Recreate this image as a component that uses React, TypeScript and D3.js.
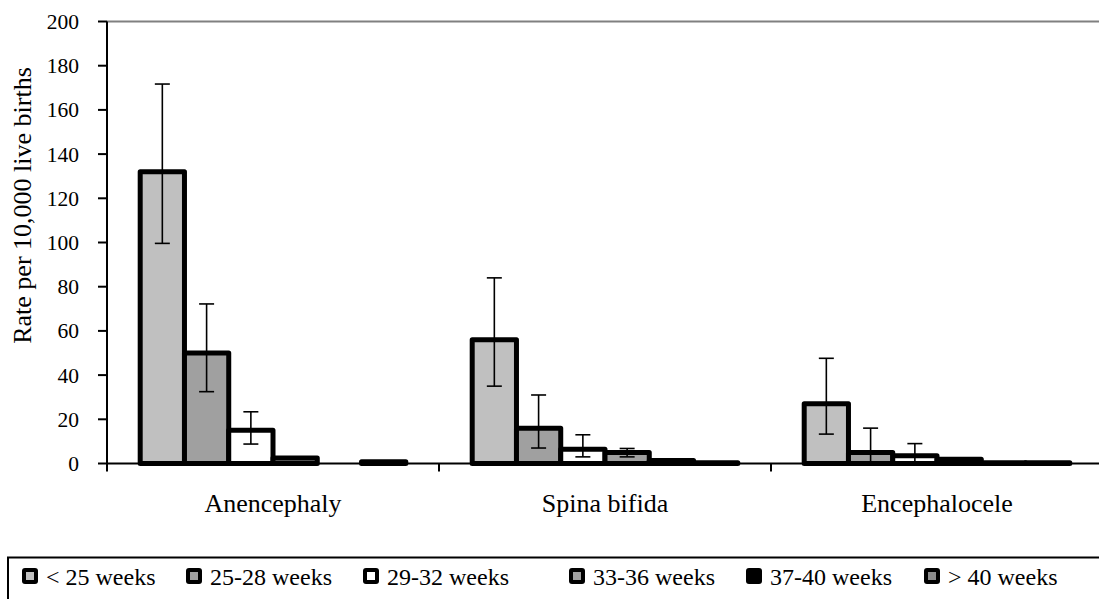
import React from "react";
import * as d3 from "d3";

// Neural tube defect rates by gestational age at birth
const categories: string[] = ["Anencephaly", "Spina bifida", "Encephalocele"];
const seriesNames: string[] = [
  "< 25 weeks",
  "25-28 weeks",
  "29-32 weeks",
  "33-36 weeks",
  "37-40 weeks",
  "> 40 weeks",
];

// rate per 10,000 live births, one array per gestational-age group (Anencephaly, Spina bifida, Encephalocele)
const lt25: number[] = [132, 56, 27];
const w25to28: number[] = [50, 16, 5];
const w29to32: number[] = [15, 6.5, 3.5];
const w33to36: number[] = [2.5, 5, 1.9];
const w37to40: number[] = [0, 1.4, 0.3];
const gt40: number[] = [0.8, 0.3, 0.3];

// 95% confidence limits (null = no interval shown)
const lt25Low: (number | null)[] = [99.6, 35, 13.3];
const lt25High: (number | null)[] = [171.7, 84, 47.6];
const w25to28Low: (number | null)[] = [32.5, 7, 0];
const w25to28High: (number | null)[] = [72.2, 31, 16];
const w29to32Low: (number | null)[] = [8.8, 3, 0];
const w29to32High: (number | null)[] = [23.4, 13, 9];
const w33to36Low: (number | null)[] = [null, 3, null];
const w33to36High: (number | null)[] = [null, 6.8, null];
const noInterval: (number | null)[] = [null, null, null];

const yTickValues: number[] = [0, 20, 40, 60, 80, 100, 120, 140, 160, 180, 200];

const seriesValues = [lt25, w25to28, w29to32, w33to36, w37to40, gt40];
const seriesLow = [lt25Low, w25to28Low, w29to32Low, w33to36Low, noInterval, noInterval];
const seriesHigh = [lt25High, w25to28High, w29to32High, w33to36High, noInterval, noInterval];

// styling
const fills = ["#c0c0c0", "#a0a0a0", "#ffffff", "#a0a0a0", "#000000", "#8c8c8c"];
const FONT = '"Liberation Serif", Tinos, "Times New Roman", "DejaVu Serif", serif';

// layout
const W = 1099;
const H = 599;
const plotLeft = 107;
const plotRight = 1103;
const plotTop = 21.5;
const plotBottom = 463.5;
const legendItemX = [22, 186, 363, 569, 746, 924];

export default function App() {
  const x0 = d3.scaleBand<string>().domain(categories).range([plotLeft, plotRight]).paddingInner(0).paddingOuter(0);
  const x1 = d3
    .scaleBand<string>()
    .domain(seriesNames)
    .range([0, x0.bandwidth()])
    .paddingInner(0)
    .paddingOuter(0.75);
  const y = d3.scaleLinear().domain([0, 200]).range([plotBottom, plotTop]);

  const bars: React.ReactNode[] = [];
  const errs: React.ReactNode[] = [];
  seriesNames.forEach((s, si) => {
    categories.forEach((c, ci) => {
      const v = seriesValues[si][ci];
      const bx = (x0(c) ?? 0) + (x1(s) ?? 0);
      const bw = x1.bandwidth();
      if (v > 0) {
        bars.push(
          <rect
            key={`b-${si}-${ci}`}
            x={bx}
            y={y(v)}
            width={bw}
            height={y(0) - y(v)}
            fill={fills[si]}
            stroke="#000"
            strokeWidth={5}
            strokeLinejoin="round"
          />
        );
      }
      const lo = seriesLow[si][ci];
      const hi = seriesHigh[si][ci];
      if (lo !== null && hi !== null) {
        const cx = bx + bw / 2;
        errs.push(
          <g key={`e-${si}-${ci}`} stroke="#000" strokeWidth={1.6}>
            <line x1={cx} x2={cx} y1={y(lo)} y2={y(hi)} />
            <line x1={cx - 7.5} x2={cx + 7.5} y1={y(hi)} y2={y(hi)} />
            {lo > 0 && <line x1={cx - 7.5} x2={cx + 7.5} y1={y(lo)} y2={y(lo)} />}
          </g>
        );
      }
    });
  });

  return (
    <svg width={W} height={H} style={{ position: "absolute", left: 0, top: 0, fontFamily: FONT }}>
      <rect x={0} y={0} width={W} height={H} fill="#fff" />
      {/* top frame line */}
      <line x1={plotLeft} x2={plotRight} y1={plotTop} y2={plotTop} stroke="#808080" strokeWidth={2} />
      {bars}
      {errs}
      {/* x axis */}
      <line x1={plotLeft} x2={plotRight} y1={plotBottom} y2={plotBottom} stroke="#000" strokeWidth={2} />
      {[...categories.map((c) => x0(c) ?? 0), plotRight].map((tx, i) => (
        <line key={`xt-${i}`} x1={tx} x2={tx} y1={plotBottom} y2={plotBottom + 8} stroke="#000" strokeWidth={2} />
      ))}
      {categories.map((c) => (
        <text key={`xl-${c}`} x={(x0(c) ?? 0) + x0.bandwidth() / 2} y={512} textAnchor="middle" fontSize={26} fill="#000">
          {c}
        </text>
      ))}
      {/* y axis */}
      <line x1={plotLeft} x2={plotLeft} y1={plotTop} y2={plotBottom} stroke="#000" strokeWidth={2} />
      {yTickValues.map((t) => (
        <g key={`yt-${t}`}>
          <line x1={plotLeft - 9} x2={plotLeft} y1={y(t)} y2={y(t)} stroke="#000" strokeWidth={2} />
          <text x={plotLeft - 28} y={y(t)} dy="0.35em" textAnchor="end" fontSize={21.5} fill="#000">
            {t}
          </text>
        </g>
      ))}
      <text
        transform={`translate(31, ${(plotTop + plotBottom) / 2 - 37}) rotate(-90)`}
        textAnchor="middle"
        fontSize={26}
        fill="#000"
      >
        Rate per 10,000 live births
      </text>
      {/* legend */}
      <rect x={8} y={557.5} width={1100} height={60} fill="none" stroke="#000" strokeWidth={2} />
      {seriesNames.map((s, si) => (
        <g key={`lg-${si}`} transform={`translate(${legendItemX[si]}, 568)`}>
          <rect x={0} y={0} width={16} height={16} rx={3} fill="#000" />
          <rect x={4} y={4} width={8} height={8} fill={fills[si]} />
          <text x={24} y={17} fontSize={24} fill="#000">
            {s}
          </text>
        </g>
      ))}
    </svg>
  );
}
